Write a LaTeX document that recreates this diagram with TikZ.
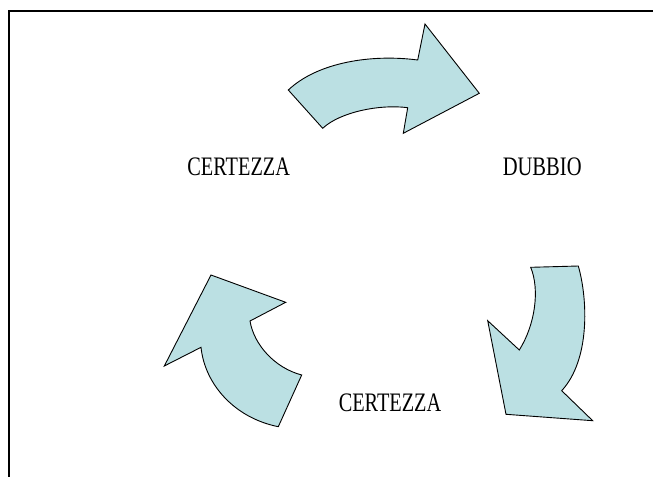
\documentclass[tikz,border=0pt]{standalone}
\usepackage{fontspec}
\setmainfont{Liberation Serif}
\definecolor{arrowfill}{RGB}{187,224,227}
\begin{document}
\begin{tikzpicture}[x=1pt,y=-1pt,
  arrowshape/.style={draw=black, line width=0.9pt, fill=arrowfill, line join=miter},
  lbl/.style={inner sep=0pt, anchor=base, font=\fontsize{26.7}{30}\selectfont},
  frameline/.style={line width=2pt}]
\useasboundingbox (0,0) rectangle (653,477);
% frame
\coordinate (fTR) at (653,11);
\coordinate (fTL) at (9,11);
\coordinate (fBL) at (9,477);
\draw[frameline] (fTR) -- (fTL) -- (fBL);
% top arrow
\path[arrowshape] (288.3,90) .. controls (318,62) and (372,54) .. (417.7,60)
  -- (425,24) -- (479.3,93.3) -- (403.3,133.3) -- (407.7,107.7)
  .. controls (380,104) and (340,112) .. (322.7,128.3) -- cycle;
% right arrow
\path[arrowshape] (530.7,267.3) -- (578.3,266)
  .. controls (588,300) and (590,360) .. (561.7,390.7)
  -- (592.7,420.7) -- (506,414.3) -- (487.7,320.7) -- (519.3,350)
  .. controls (535,325) and (540,290) .. (530.7,267.3) -- cycle;
% left arrow
\path[arrowshape] (211,275) -- (285.7,302.3) -- (250,321)
  .. controls (254,345) and (275,368) .. (301.7,375)
  -- (278.3,426.7)
  .. controls (235,418) and (205,385) .. (201,347.3)
  -- (164.3,366) -- cycle;
% labels
\node[lbl] (c1) at (238.7,175) {\scalebox{0.76}[1]{CERTEZZA}};
\node[lbl] (d1) at (542.2,175) {\scalebox{0.77}[1]{DUBBIO}};
\node[lbl] (c2) at (390,411) {\scalebox{0.76}[1]{CERTEZZA}};
\end{tikzpicture}
\end{document}
